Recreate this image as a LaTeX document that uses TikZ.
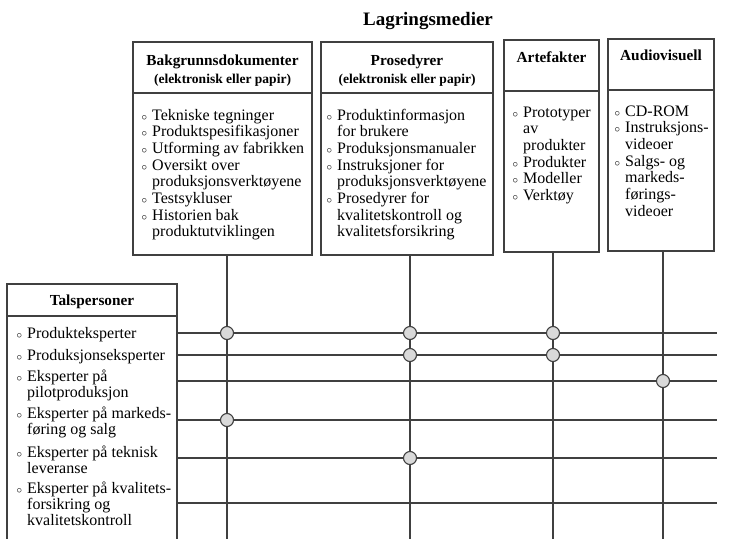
\documentclass[tikz,border=0pt]{standalone}
\usepackage{fontspec}
\setmainfont{Liberation Serif}
\newcommand{\lbul}{\makebox[11pt][l]{\hspace{0.5pt}$\scriptstyle\circ$}}
\newcommand{\lind}{\hspace*{11pt}}
\newcommand{\tlist}[1]{\begin{tabular}[t]{@{}l@{}}#1\end{tabular}}
\tikzset{
 ln/.style={draw=black!75, line width=1.1pt},
 box/.style={draw=black!75, line width=1.2pt, inner sep=0pt, outer sep=0pt, anchor=north west},
 dot/.style={circle, draw=black!75, fill=black!15, line width=1.1pt, minimum size=13pt, inner sep=0pt},
 itm/.style={anchor=base west, inner sep=0pt, font=\fontsize{16}{16.7}\selectfont},
 titm/.style={anchor=base west, inner sep=0pt, font=\fontsize{16}{16}\selectfont},
 hd/.style={anchor=base, inner sep=0pt, font=\bfseries\fontsize{15.3}{17}\selectfont},
 sub/.style={anchor=base, inner sep=0pt, font=\bfseries\fontsize{13.5}{15}\selectfont},
 ttl/.style={anchor=base, inner sep=0pt, font=\bfseries\fontsize{19}{20}\selectfont},
}
\begin{document}
\begin{tikzpicture}[x=1pt,y=-1pt]
\useasboundingbox (0,0) rectangle (749,538);
% title
\node[ttl] (title) at (428,25) {Lagringsmedier};
% top boxes
\node[box, minimum width=179pt, minimum height=51pt] (b1h) at (133,42) {};
\node[box, minimum width=179pt, minimum height=162pt] (b1) at (133,93) {};
\node[box, minimum width=172pt, minimum height=51pt] (b2h) at (321,42) {};
\node[box, minimum width=172pt, minimum height=162pt] (b2) at (321,93) {};
\node[box, minimum width=95pt, minimum height=51pt] (b3h) at (504,40) {};
\node[box, minimum width=95pt, minimum height=161pt] (b3) at (504,91) {};
\node[box, minimum width=106pt, minimum height=51pt] (b4h) at (608,39) {};
\node[box, minimum width=106pt, minimum height=161pt] (b4) at (608,90) {};
% left box
\node[box, minimum width=170pt, minimum height=32pt] (th) at (7,284) {};
\node[box, minimum width=170pt, minimum height=235pt] (t) at (7,316) {};
% headers
\node[hd] (h1) at (222.5,65) {Bakgrunnsdokumenter};
\node[sub] (s1) at (222.5,83) {(elektronisk eller papir)};
\node[hd] (h2) at (407,65) {Prosedyrer};
\node[sub] (s2) at (407,83) {(elektronisk eller papir)};
\node[hd] (h3) at (551.5,62) {Artefakter};
\node[hd] (h4) at (661,60) {Audiovisuell};
\node[hd] (h5) at (92,305) {Talspersoner};
% lists
\node[itm] (l1) at (141,120) {\tlist{\lbul Tekniske tegninger\\\lbul Produktspesifikasjoner\\\lbul Utforming av fabrikken\\\lbul Oversikt over\\\lind produksjonsverktøyene\\\lbul Testsykluser\\\lbul Historien bak\\\lind produktutviklingen}};
\node[itm] (l2) at (326,120) {\tlist{\lbul Produktinformasjon\\\lind for brukere\\\lbul Produksjonsmanualer\\\lbul Instruksjoner for\\\lind produksjonsverktøyene\\\lbul Prosedyrer for\\\lind kvalitetskontroll og\\\lind kvalitetsforsikring}};
\node[itm] (l3) at (512,117) {\tlist{\lbul Prototyper\\\lind av\\\lind produkter\\\lbul Produkter\\\lbul Modeller\\\lbul Verktøy}};
\node[itm] (l4) at (614,116) {\tlist{\lbul CD-ROM\\\lbul Instruksjons-\\\lind videoer\\\lbul Salgs- og\\\lind markeds-\\\lind førings-\\\lind videoer}};
\node[titm] (p1) at (16,338) {\lbul Produkteksperter};
\node[titm] (p2) at (16,360) {\lbul Produksjonseksperter};
\node[titm] (p3) at (16,381) {\tlist{\lbul Eksperter på\\\lind pilotproduksjon}};
\node[titm] (p4) at (16,418) {\tlist{\lbul Eksperter på markeds-\\\lind føring og salg}};
\node[titm] (p5) at (16,457) {\tlist{\lbul Eksperter på teknisk\\\lind leveranse}};
\node[titm] (p6) at (16,493) {\tlist{\lbul Eksperter på kvalitets-\\\lind forsikring og\\\lind kvalitetskontroll}};
% grid coordinates
\coordinate (v1) at (227,545);
\coordinate (v2) at (410,545);
\coordinate (v3) at (553,545);
\coordinate (v4) at (663,545);
\coordinate (r1) at (717,333);
\coordinate (r2) at (717,355);
\coordinate (r3) at (717,381);
\coordinate (r4) at (717,420);
\coordinate (r5) at (717,458);
\coordinate (r6) at (717,503);
\foreach \v/\b in {v1/b1,v2/b2,v3/b3,v4/b4} \draw[ln] (\b.south -| \v) -- (\v);
\foreach \r in {r1,r2,r3,r4,r5,r6} \draw[ln] (t.east |- \r) -- (\r);
% intersections
\node[dot] (c11) at (v1 |- r1) {};
\node[dot] (c21) at (v2 |- r1) {};
\node[dot] (c31) at (v3 |- r1) {};
\node[dot] (c22) at (v2 |- r2) {};
\node[dot] (c32) at (v3 |- r2) {};
\node[dot] (c43) at (v4 |- r3) {};
\node[dot] (c14) at (v1 |- r4) {};
\node[dot] (c25) at (v2 |- r5) {};
\end{tikzpicture}
\end{document}
